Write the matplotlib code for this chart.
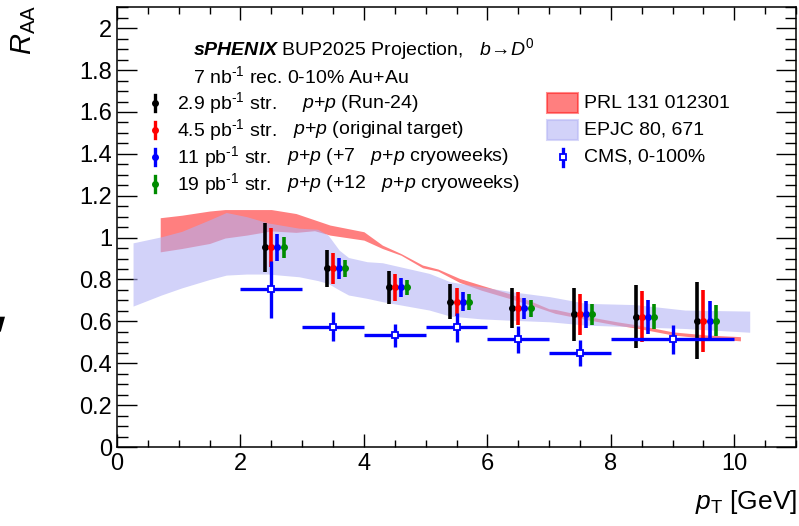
import matplotlib
matplotlib.use("Agg")
import matplotlib.pyplot as plt
from matplotlib.lines import Line2D
from matplotlib.patches import Rectangle, Polygon
from matplotlib.ticker import MultipleLocator

plt.rcParams['font.family'] = ['Liberation Sans', 'DejaVu Sans']
plt.rcParams['mathtext.fontset'] = 'custom'
plt.rcParams['mathtext.rm'] = 'Liberation Sans'
plt.rcParams['mathtext.it'] = 'Liberation Sans:italic'
plt.rcParams['mathtext.bf'] = 'Liberation Sans:bold'
plt.rcParams['mathtext.bfit'] = 'Liberation Sans:italic:bold'

# sPHENIX projected R_AA (b -> D0), same central values for all lumis
pt = [2.5, 3.5, 4.5, 5.5, 6.5, 7.5, 8.5, 9.5]
raa = [0.953, 0.853, 0.762, 0.694, 0.662, 0.633, 0.622, 0.603]
err_run24 = [0.117, 0.089, 0.080, 0.083, 0.095, 0.125, 0.151, 0.183]
err_orig = [0.094, 0.073, 0.064, 0.067, 0.079, 0.100, 0.122, 0.147]
err_7wk = [0.063, 0.052, 0.044, 0.045, 0.052, 0.065, 0.080, 0.095]
err_12wk = [0.050, 0.040, 0.034, 0.038, 0.040, 0.050, 0.060, 0.075]

# CMS 0-100%
cms_pt = [2.5, 3.5, 4.5, 5.5, 6.5, 7.5, 9.0]
cms_pt_err = [0.5, 0.5, 0.5, 0.5, 0.5, 0.5, 1.0]
cms_raa = [0.753, 0.574, 0.533, 0.571, 0.514, 0.447, 0.514]
cms_err = [0.136, 0.070, 0.056, 0.070, 0.064, 0.062, 0.070]

# PRL 131 012301 band
prl_pt = [0.7, 1.05, 1.5, 1.75, 2.1, 2.5, 2.9, 3.2, 3.45, 4.0, 4.3, 4.6, 4.95,
          5.2, 5.55, 5.9, 6.35, 6.7, 7.0, 7.1, 7.65, 8.1, 8.45, 9.0, 9.55, 10.1]
prl_hi = [1.095, 1.107, 1.127, 1.134, 1.134, 1.134, 1.115, 1.085, 1.060, 1.028,
          0.964, 0.924, 0.869, 0.850, 0.805, 0.773, 0.733, 0.697, 0.660, 0.657,
          0.622, 0.598, 0.582, 0.550, 0.535, 0.527]
prl_lo = [0.932, 0.948, 0.972, 0.998, 1.012, 1.032, 1.025, 1.033, 1.012, 0.988,
          0.948, 0.916, 0.856, 0.840, 0.786, 0.749, 0.710, 0.678, 0.648, 0.638,
          0.606, 0.582, 0.566, 0.535, 0.519, 0.507]

# EPJC 80, 671 band
epjc_pt = [0.26, 0.72, 1.05, 1.5, 1.77, 2.1, 2.45, 2.95, 3.25, 3.42, 3.6, 3.75,
           4.05, 4.3, 5.06, 5.4, 5.9, 6.41, 7.01, 7.6, 8.4, 9.2, 10.25]
epjc_hi = [0.975, 1.004, 1.03, 1.085, 1.12, 1.10, 1.07, 1.045, 1.04, 1.012, 0.94,
           0.905, 0.885, 0.880, 0.829, 0.789, 0.765, 0.741, 0.718, 0.686, 0.680,
           0.654, 0.649]
epjc_lo = [0.673, 0.726, 0.76, 0.80, 0.821, 0.826, 0.826, 0.813, 0.795, 0.781,
           0.75, 0.726, 0.71, 0.694, 0.654, 0.625, 0.612, 0.605, 0.598, 0.582,
           0.574, 0.566, 0.548]

W, H = 799, 526
RED_FILL = (1.0, 0.0, 0.0)
BLUE_FILL = (177 / 255, 177 / 255, 245 / 255)
GREEN = (0.0, 0.55, 0.0)


def fx(px):
    return px / W


def fy(py):
    return 1 - py / H


fig = plt.figure(figsize=(W / 100, H / 100), dpi=100)
ax = fig.add_axes([fx(117), fy(447), (796 - 117) / W, (447 - 7.3) / H])

ax.fill_between(prl_pt, prl_lo, prl_hi, color=RED_FILL, alpha=0.5, lw=0, zorder=1)
ax.fill_between(epjc_pt, epjc_lo, epjc_hi, color=BLUE_FILL, alpha=0.575, lw=0, zorder=2)

series = [
    (err_run24, -0.1, 'black'),
    (err_orig, 0.0, 'red'),
    (err_7wk, 0.1, 'blue'),
    (err_12wk, 0.2, GREEN),
]
for errs, shift, col in series:
    ax.errorbar([p + shift for p in pt], raa, yerr=errs, fmt='o', color=col,
                ms=4, lw=2.6, capsize=0, zorder=4)

ax.errorbar(cms_pt, cms_raa, xerr=cms_pt_err, yerr=cms_err, fmt='s',
            color='blue', mfc='white', mec='blue', mew=1.3, ms=4.6, lw=2.4,
            capsize=0, zorder=5)

ax.set_xlim(0, 11)
ax.set_ylim(0, 2.1)
ax.xaxis.set_major_locator(MultipleLocator(2))
ax.xaxis.set_minor_locator(MultipleLocator(0.5))
ax.yaxis.set_major_locator(MultipleLocator(0.2))
ax.yaxis.set_minor_locator(MultipleLocator(0.05))
ax.yaxis.set_major_formatter(plt.FuncFormatter(lambda v, p: f"{v:g}"))
ax.tick_params(axis='both', which='both', direction='in', top=True,
               right=True, width=1.0, labelsize=17)
ax.tick_params(axis='x', which='major', length=9.4, pad=4)
ax.tick_params(axis='x', which='minor', length=4.7)
ax.tick_params(axis='y', which='major', length=14.4, pad=3.6)
ax.tick_params(axis='y', which='minor', length=8)
for s in ax.spines.values():
    s.set_linewidth(1.1)

fig.text(fx(24), fy(5), r"$R_{\mathrm{AA}}$", rotation=90, ha='center',
         va='top', fontsize=21)
fig.text(fx(797), fy(509), r"$p_{\mathrm{T}}$ [GeV]", ha='right',
         va='baseline', fontsize=19)

# header
fs = 14
fig.text(fx(193), fy(49),
         r"$\mathbfit{sPHENIX}$ BUP2025 Projection,   $b\!\rightarrow\!D^{0}$",
         ha='left', va='center', fontsize=fs)
fig.text(fx(193), fy(76), r"7 nb$^{\text{-1}}$ rec. 0-10% Au+Au",
         ha='left', va='center', fontsize=fs)

rows_y = [103, 130, 157, 184]
left_lab = [r"2.9 pb$^{\text{-1}}$ str.", r"4.5 pb$^{\text{-1}}$ str.",
            r"11 pb$^{\text{-1}}$ str.", r"19 pb$^{\text{-1}}$ str."]
right_lab = [r"$p$+$p$ (Run-24)", r"$p$+$p$ (original target)",
             r"$p$+$p$ (+7   $p$+$p$ cryoweeks)",
             r"$p$+$p$ (+12   $p$+$p$ cryoweeks)"]
pp_x = [302, 293, 287, 287]
for yy, l1, l2, px2, (_, _, col) in zip(rows_y, left_lab, right_lab, pp_x, series):
    fig.add_artist(Line2D([fx(155), fx(155)], [fy(yy - 8), fy(yy + 8)],
                          transform=fig.transFigure, color=col, lw=2.4))
    fig.add_artist(Line2D([fx(155)], [fy(yy)], transform=fig.transFigure,
                          marker='o', ms=4, color=col))
    fig.text(fx(177), fy(yy), l1, ha='left', va='center', fontsize=fs)
    fig.text(fx(px2), fy(yy), l2, ha='left', va='center', fontsize=fs)

fig.add_artist(Rectangle((fx(547), fy(113)), (578 - 547) / W, 20 / H,
                         transform=fig.transFigure, facecolor=(1, 0, 0, 0.5),
                         edgecolor=(1, 0, 0, 0.45), lw=1.5))
fig.add_artist(Rectangle((fx(547), fy(140)), (578 - 547) / W, 20 / H,
                         transform=fig.transFigure,
                         facecolor=BLUE_FILL + (0.575,),
                         edgecolor=BLUE_FILL + (0.5,), lw=1.5))
fig.add_artist(Line2D([fx(563), fx(563)], [fy(149), fy(166)],
                      transform=fig.transFigure, color='blue', lw=2.4))
fig.add_artist(Line2D([fx(563)], [fy(157)], transform=fig.transFigure,
                      marker='s', ms=4.6, mfc='white', mec='blue', mew=1.3))
fig.text(fx(584), fy(103), "PRL 131 012301", ha='left', va='center', fontsize=fs)
fig.text(fx(584), fy(130), "EPJC 80, 671", ha='left', va='center', fontsize=fs)
fig.text(fx(584), fy(157), "CMS, 0-100%", ha='left', va='center', fontsize=fs)

# cut-off glyph at left border
fig.add_artist(Polygon([(fx(0), fy(316.7)), (fx(5), fy(316.7)),
                        (fx(0.8), fy(331.7)), (fx(0), fy(331.7))],
                       closed=True, transform=fig.transFigure, color='black',
                       lw=0))

fig.savefig("out.png", dpi=100)
